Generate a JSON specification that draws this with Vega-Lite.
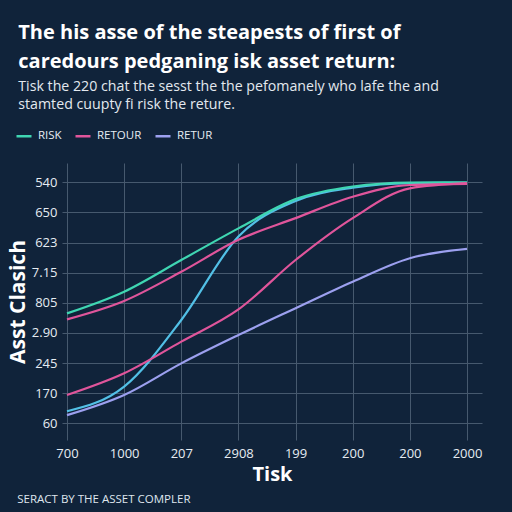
{
  "$schema": "https://vega.github.io/schema/vega-lite/v6.json",
  "background": "#10233a",
  "padding": {"left": 7, "top": 23, "right": 30, "bottom": 20},
  "title": {
    "text": ["The his asse of the steapests of first of", "caredours pedganing isk asset return:"],
    "subtitle": ["Tisk the 220 chat the sesst the the pefomanely who lafe the and", "stamted cuupty fi risk the reture."],
    "anchor": "start",
    "frame": "bounds",
    "font": "Open Sans",
    "fontSize": 20,
    "fontWeight": "bold",
    "color": "#ffffff",
    "lineHeight": 29,
    "subtitleFont": "Open Sans",
    "subtitleFontSize": 14.2,
    "subtitleColor": "#e3e9ef",
    "subtitleLineHeight": 17.5,
    "subtitlePadding": 8,
    "offset": 15,
    "dx": 11
  },
  "vconcat": [
    {
      "width": 420,
      "height": 277,
      "title": {
        "text": "SERACT BY THE ASSET COMPLER",
        "orient": "bottom",
        "anchor": "start",
        "frame": "bounds",
        "font": "Open Sans",
        "fontSize": 11.5,
        "fontWeight": "normal",
        "color": "#dfe6ee",
        "offset": 10,
        "dx": 10
      },
      "data": {
        "values": [
          {"series": "RISK2", "x": 0, "y": 0.4},
          {"series": "RISK2", "x": 1, "y": 1.22},
          {"series": "RISK2", "x": 2, "y": 3.43},
          {"series": "RISK2", "x": 3, "y": 6.2},
          {"series": "RISK2", "x": 4, "y": 7.38},
          {"series": "RISK2", "x": 5, "y": 7.82},
          {"series": "RISK2", "x": 6, "y": 7.97},
          {"series": "RISK2", "x": 7, "y": 7.98},
          {"series": "RISK", "x": 0, "y": 3.65},
          {"series": "RISK", "x": 1, "y": 4.37},
          {"series": "RISK", "x": 2, "y": 5.42},
          {"series": "RISK", "x": 3, "y": 6.47},
          {"series": "RISK", "x": 4, "y": 7.44},
          {"series": "RISK", "x": 5, "y": 7.86},
          {"series": "RISK", "x": 6, "y": 7.99},
          {"series": "RISK", "x": 7, "y": 8.0},
          {"series": "RETOUR", "x": 0, "y": 3.45},
          {"series": "RETOUR", "x": 1, "y": 4.06},
          {"series": "RETOUR", "x": 2, "y": 5.03},
          {"series": "RETOUR", "x": 3, "y": 6.09},
          {"series": "RETOUR", "x": 4, "y": 6.81},
          {"series": "RETOUR", "x": 5, "y": 7.52},
          {"series": "RETOUR", "x": 6, "y": 7.91},
          {"series": "RETOUR", "x": 7, "y": 7.95},
          {"series": "RETOUR2", "x": 0, "y": 0.94},
          {"series": "RETOUR2", "x": 1, "y": 1.66},
          {"series": "RETOUR2", "x": 2, "y": 2.71},
          {"series": "RETOUR2", "x": 3, "y": 3.78},
          {"series": "RETOUR2", "x": 4, "y": 5.42},
          {"series": "RETOUR2", "x": 5, "y": 6.81},
          {"series": "RETOUR2", "x": 6, "y": 7.8},
          {"series": "RETOUR2", "x": 7, "y": 7.97},
          {"series": "RETUR", "x": 0, "y": 0.27},
          {"series": "RETUR", "x": 1, "y": 0.94},
          {"series": "RETUR", "x": 2, "y": 1.99},
          {"series": "RETUR", "x": 3, "y": 2.93},
          {"series": "RETUR", "x": 4, "y": 3.82},
          {"series": "RETUR", "x": 5, "y": 4.7},
          {"series": "RETUR", "x": 6, "y": 5.48},
          {"series": "RETUR", "x": 7, "y": 5.79}
        ]
      },
      "mark": {"type": "line", "interpolate": "monotone", "strokeWidth": 2.2},
      "encoding": {
        "x": {
          "field": "x",
          "type": "quantitative",
          "scale": {"domain": [-0.0875, 7.2625], "nice": false, "zero": false},
          "axis": {
            "title": "Tisk",
            "values": [0, 1, 2, 3, 4, 5, 6, 7],
            "labelExpr": "['700','1000','207','2908','199','200','200','2000'][datum.value]"
          }
        },
        "y": {
          "field": "y",
          "type": "quantitative",
          "scale": {"domain": [-0.554, 8.64], "nice": false, "zero": false},
          "axis": {
            "title": "Asst Clasich",
            "values": [0, 1, 2, 3, 4, 5, 6, 7, 8],
            "labelExpr": "['60','170','245','2.90','805','7.15','623','650','540'][datum.value]"
          }
        },
        "color": {
          "field": "series",
          "type": "nominal",
          "scale": {
            "domain": ["RISK", "RETOUR", "RETUR", "RISK2", "RETOUR2"],
            "range": ["#3fd6b2", "#e0559b", "#9ca0ef", "#52c0e6", "#e0559b"]
          },
          "legend": {
            "values": ["RISK", "RETOUR", "RETUR"],
            "title": null,
            "orient": "none",
            "legendX": -47,
            "legendY": -36,
            "direction": "horizontal",
            "symbolType": "stroke",
            "symbolSize": 225,
            "symbolStrokeWidth": 2.5,
            "labelOffset": 5,
            "labelFont": "Open Sans",
            "labelFontSize": 11.5,
            "labelColor": "#e6ecf2",
            "columnPadding": 8
          }
        }
      }
    }
  ],
  "config": {
    "view": {"stroke": null},
    "axis": {
      "grid": true,
      "gridColor": "#46596e",
      "gridWidth": 1,
      "domain": false,
      "ticks": false,
      "labelFont": "Open Sans",
      "labelFontSize": 13,
      "labelColor": "#e6ecf2",
      "titleFont": "Open Sans",
      "titleFontWeight": "bold",
      "titleColor": "#ffffff"
    },
    "axisX": {"labelPadding": 7, "titlePadding": 4, "titleFontSize": 20},
    "axisY": {"labelPadding": 5, "titlePadding": 3, "titleFontSize": 21}
  }
}
